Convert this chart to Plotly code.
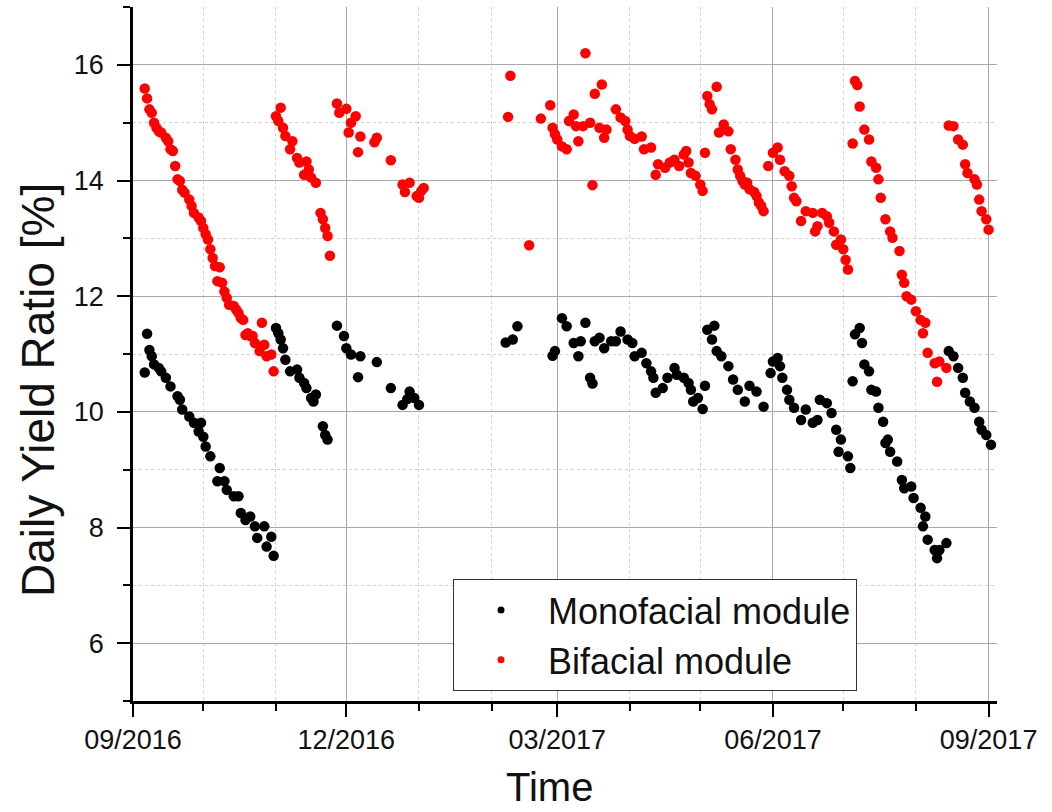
import pandas as pd
import plotly.graph_objects as go

# Daily yield ratio of the two modules, indexed by day since 2016-09-01
START = pd.Timestamp("2016-09-01")

mono_day = [
    5, 6, 7, 8, 9, 11, 12, 14, 16, 19, 20, 21, 24, 26, 28, 29, 30, 31, 33, 36,
    37, 39, 40, 43, 45, 46, 48, 50, 52, 53, 56, 57, 59, 60,
    61, 62, 63, 64, 65, 67, 70, 71, 73, 74, 76, 77, 78, 81, 82, 83,
    87, 90, 91, 93, 96, 97, 104, 110, 115, 117, 118, 120, 122,
    159, 162, 164, 179, 180, 183, 185, 188, 190, 191, 193, 195, 196, 197, 199,
    201, 204, 206, 208, 211, 213, 214, 217, 219, 221, 222, 223, 226, 228, 231,
    232, 235, 237, 238, 239, 241, 243, 244, 245, 247, 248, 249, 251, 254, 256,
    258, 261, 263, 266, 269, 272, 273, 275, 276, 277, 279, 280, 282, 285, 287,
    290, 292, 293, 296, 298, 300, 301, 302, 305, 306, 307, 308, 310, 311, 312,
    314, 315, 317, 318, 320, 321, 322, 323, 326, 328, 329, 332, 333, 336, 337,
    338, 339, 342, 343, 344, 347, 348, 350, 352, 354, 355, 357, 359, 361, 362,
    364, 366,
]
mono_val = [
    10.68, 11.35, 11.07, 10.96, 10.82, 10.76, 10.70, 10.59, 10.44, 10.27, 10.21,
    10.04, 9.92, 9.81, 9.66, 9.81, 9.57, 9.40, 9.23, 8.80,
    9.03, 8.80, 8.65, 8.54, 8.54, 8.25, 8.13, 8.19, 8.02, 7.82, 8.02, 7.67, 7.84, 7.51,
    11.45, 11.36, 11.25, 11.10, 10.90, 10.70, 10.73, 10.59, 10.50, 10.41, 10.24,
    10.18, 10.30, 9.75, 9.60, 9.52,
    11.49, 11.31, 11.10, 10.99, 10.60, 10.96, 10.86, 10.41, 10.12, 10.22, 10.35,
    10.24, 10.12,
    11.20, 11.25, 11.48, 10.97, 11.05, 11.62, 11.48, 11.19, 10.96, 11.22, 11.54,
    10.59, 10.49, 11.22, 11.28,
    11.10, 11.22, 11.22, 11.39, 11.25, 11.19, 10.96, 11.02, 10.84, 10.70, 10.59,
    10.33, 10.41, 10.59, 10.76,
    10.64, 10.59, 10.50, 10.38, 10.18, 10.24, 10.05, 10.45, 11.42, 11.25, 11.49,
    11.05, 10.96, 10.79, 10.56,
    10.38, 10.18, 10.45, 10.35, 10.09, 10.67, 10.87, 10.93, 10.79, 10.59, 10.38,
    10.21, 10.07, 9.86, 10.04,
    9.81, 9.86, 10.21, 10.15, 9.98, 9.69, 9.31, 9.52, 9.23, 9.03, 10.53, 11.34,
    11.45, 11.19, 10.82,
    10.70, 10.38, 10.35, 10.07, 9.83, 9.46, 9.52, 9.31, 9.14, 8.82, 8.68, 8.71,
    8.51, 8.34, 8.02,
    8.19, 7.79, 7.61, 7.47, 7.61, 7.73, 11.05, 10.96, 10.76, 10.59, 10.33, 10.18,
    10.07, 9.83, 9.69,
    9.60, 9.43,
]

bi_day = [
    5, 6, 7, 8, 9, 10, 11, 12, 14, 15, 16, 17, 18, 19, 20, 21, 22, 24, 25, 26,
    28, 29, 30, 31, 32, 33, 34, 35, 36, 37, 38, 39, 40, 41, 43, 44, 45, 46, 47,
    48, 49, 50, 51, 52, 54, 55, 56, 57, 59, 60,
    61, 62, 63, 64, 65, 67, 68, 70, 71, 73, 74, 75, 76, 78, 80, 81, 82, 83, 84,
    87, 88, 91, 92, 93, 95, 96, 97, 103, 104, 110, 115, 116, 118, 121, 122, 123, 124,
    160, 161, 169, 174, 178, 179, 180, 181, 183, 185, 186, 188, 189, 190, 192,
    193, 195, 196, 197, 199, 200, 201, 202, 206, 208, 210, 211, 212, 214, 217,
    218, 221, 223, 224, 227, 229, 231, 233, 235, 236, 237, 238, 240, 242, 243,
    244, 245, 246, 247, 249, 250, 252, 254, 255, 257, 258, 259, 260, 261, 262,
    263, 265, 266, 267, 268, 269, 271, 273, 275, 276, 278, 280, 281, 282, 283,
    285, 287, 290, 291, 292, 294, 296, 297, 299, 300, 302, 303, 304, 305, 307,
    308, 309, 310, 312, 314, 315, 317, 318, 319, 321, 323, 324, 327, 328, 329,
    330, 332, 334, 336, 337, 338, 339, 342, 343, 344, 347, 348, 350, 352, 354,
    355, 356, 359, 360, 361, 362, 364, 365,
]
bi_val = [
    15.59, 15.42, 15.23, 15.17, 15.00, 14.91, 14.85, 14.83, 14.74, 14.68, 14.54,
    14.51, 14.25, 14.02, 13.99, 13.84, 13.79, 13.67, 13.56, 13.44,
    13.36, 13.30, 13.18, 13.07, 12.98, 12.81, 12.66, 12.52, 12.26, 12.50, 12.23,
    12.08, 11.97, 11.85, 11.83, 11.77, 11.71, 11.62, 11.59,
    11.33, 11.36, 11.31, 11.31, 11.19, 11.05, 11.54, 11.16, 10.96, 10.99, 10.70,
    15.11, 15.03, 15.26, 14.91, 14.77, 14.54, 14.68, 14.39, 14.31, 14.10, 14.33,
    14.19, 14.05, 13.96, 13.44, 13.33, 13.18, 13.04, 12.70,
    15.33, 15.17, 15.24, 14.83, 15.00, 15.11, 14.49, 14.76, 14.66, 14.74, 14.35,
    13.93, 13.80, 13.96, 13.73, 13.70, 13.82, 13.87,
    15.10, 15.81, 12.88, 15.07, 15.30, 14.91, 14.80, 14.71, 14.59, 14.54, 15.03,
    15.14, 14.94, 14.68, 14.94,
    16.20, 15.00, 13.92, 15.50, 14.91, 15.66, 14.74, 14.88, 15.23, 15.09, 15.03,
    14.88, 14.77, 14.72, 14.76,
    14.54, 14.57, 14.10, 14.28, 14.22, 14.31, 14.36, 14.25, 14.45, 14.51, 14.31,
    14.13, 14.08, 13.93, 13.82,
    14.48, 15.46, 15.32, 15.23, 15.62, 14.83, 14.97, 14.85, 14.54, 14.36, 14.19,
    14.08, 13.99, 13.93, 13.96,
    13.85, 13.80, 13.73, 13.62, 13.56, 13.47, 14.25, 14.48, 14.57, 14.36, 14.16,
    14.08, 13.90, 13.70, 13.64,
    13.30, 13.47, 13.44, 13.12, 13.21, 13.44, 13.38, 13.27, 13.12, 12.89, 12.98,
    12.81, 12.63, 12.46, 14.64,
    15.72, 15.65, 15.28, 14.88, 14.71, 14.33, 14.22, 14.02, 13.70, 13.33, 13.12,
    13.01, 12.78, 12.37, 12.23,
    12.00, 11.94, 11.74, 11.59, 11.36, 11.54, 11.02, 10.84, 10.52, 10.87, 10.76,
    14.95, 14.94, 14.71, 14.62,
    14.28, 14.13, 14.02, 13.93, 13.67, 13.47, 13.33, 13.15,
]

series_names = ["Monofacial module", "Bifacial module"]
series_colors = ["#000000", "#ff0000"]


def to_dates(days):
    return START + pd.to_timedelta(days, unit="D")


FONT = "Liberation Sans, Arial, sans-serif"

fig = go.Figure()

for days, vals, name, color in [
    (mono_day, mono_val, series_names[0], series_colors[0]),
    (bi_day, bi_val, series_names[1], series_colors[1]),
]:
    fig.add_trace(go.Scatter(
        x=to_dates(days), y=vals, mode="markers", name=name,
        marker=dict(color=color, size=10.5, line=dict(width=0)),
        showlegend=False,
    ))

# legend entries with smaller symbols
for name, color in zip(series_names, series_colors):
    fig.add_trace(go.Scatter(
        x=[None], y=[None], mode="markers", name=name,
        marker=dict(color=color, size=7),
    ))

fig.update_layout(
    width=1052, height=812,
    margin=dict(l=133, r=55, t=7, b=111),
    paper_bgcolor="white", plot_bgcolor="white",
    font=dict(family=FONT, color="#111111"),
    showlegend=True,
    legend=dict(
        x=(453 - 133) / 864, y=(701 - 579) / 694,
        xanchor="left", yanchor="top",
        bgcolor="white", bordercolor="#333333", borderwidth=1,
        font=dict(family=FONT, size=36, color="#111111"),
        itemwidth=84, tracegroupgap=0,
    ),
)

fig.update_xaxes(
    type="date",
    range=["2016-09-01", "2017-09-04 14:00"],
    tick0="2016-09-01", dtick="M3", tickformat="%m/%Y",
    ticks="outside", ticklen=13, tickwidth=2, tickcolor="black",
    ticklabelstandoff=0,
    tickfont=dict(family=FONT, size=27, color="#111111"),
    showline=True, linewidth=2.5, linecolor="black",
    showgrid=True, gridcolor="#a8a8a8", gridwidth=1,
    minor=dict(dtick="M1", tick0="2016-09-01", ticks="outside", ticklen=7,
               tickwidth=2, tickcolor="black", showgrid=True,
               gridcolor="#d0d0d0", griddash="3px,3px", gridwidth=1),
    zeroline=False,
)

fig.update_yaxes(
    range=[5, 17],
    tick0=0, dtick=2,
    ticks="outside", ticklen=13, tickwidth=2, tickcolor="black",
    ticklabelstandoff=8,
    tickfont=dict(family=FONT, size=27, color="#111111"),
    showline=True, linewidth=2.5, linecolor="black",
    showgrid=True, gridcolor="#a8a8a8", gridwidth=1,
    minor=dict(dtick=1, ticks="outside", ticklen=7, tickwidth=2,
               tickcolor="black", showgrid=True, gridcolor="#d0d0d0",
               griddash="3px,3px", gridwidth=1),
    zeroline=False,
)

# axis titles
fig.add_annotation(
    text="Daily Yield Ratio [%]", textangle=-90,
    xref="paper", yref="paper",
    x=-(133 - 38) / 864, y=(701 - 390) / 694,
    xanchor="center", yanchor="middle", showarrow=False,
    font=dict(family=FONT, size=46, color="#111111"),
)
fig.add_annotation(
    text="Time",
    xref="paper", yref="paper",
    x=(549 - 133) / 864, y=(701 - 787) / 694,
    xanchor="center", yanchor="middle", showarrow=False,
    font=dict(family=FONT, size=40, color="#111111"),
)

fig.write_html("out.html")
